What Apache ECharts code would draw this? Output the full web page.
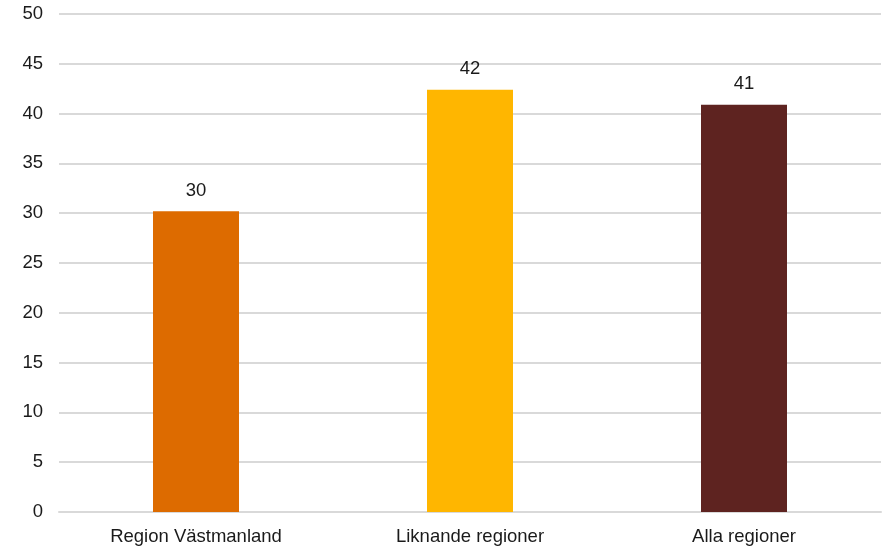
<!DOCTYPE html>
<html><head><meta charset="utf-8">
<script src="https://cdn.jsdelivr.net/npm/echarts@6/dist/echarts.min.js"></script>
<style>html,body{margin:0;padding:0;background:#fff}#c{width:885px;height:546px}</style>
</head><body><div id="c"></div>
<script>
const categories = ["Region Västmanland", "Liknande regioner", "Alla regioner"];
const values = [30.2, 42.4, 40.9];
const colors = ["#DD6B00", "#FFB600", "#5E2320"];
const yTicks = [0, 5, 10, 15, 20, 25, 30, 35, 40, 45, 50];

const FONT = 'Liberation Sans, Arial, sans-serif';
const chart = echarts.init(document.getElementById('c'), null, {renderer: 'canvas'});
chart.setOption({
  animation: false,
  grid: {left: 59, right: 4, top: 14, bottom: 34, containLabel: false},
  xAxis: {
    type: 'category', data: categories,
    axisLine: {show: true, lineStyle: {color: '#d9d9d9', width: 2}},
    axisTick: {show: false},
    axisLabel: {color: '#1a1a1a', fontSize: 18.5, fontFamily: FONT, margin: 15}
  },
  yAxis: {
    type: 'value', min: yTicks[0], max: yTicks[yTicks.length-1], interval: 5,
    axisLine: {show: false}, axisTick: {show: false},
    axisLabel: {color: '#1a1a1a', fontSize: 18.5, fontFamily: FONT, margin: 16},
    splitLine: {lineStyle: {color: '#d9d9d9', width: 2}}
  },
  series: [{
    type: 'bar', barWidth: 86,
    data: values.map((v, i) => ({value: v, itemStyle: {color: colors[i]}})),
    label: {show: true, position: 'top', distance: 11, color: '#1a1a1a', fontSize: 18.5,
      fontFamily: FONT, formatter: p => Math.round(p.value)}
  }]
});
</script></body></html>
